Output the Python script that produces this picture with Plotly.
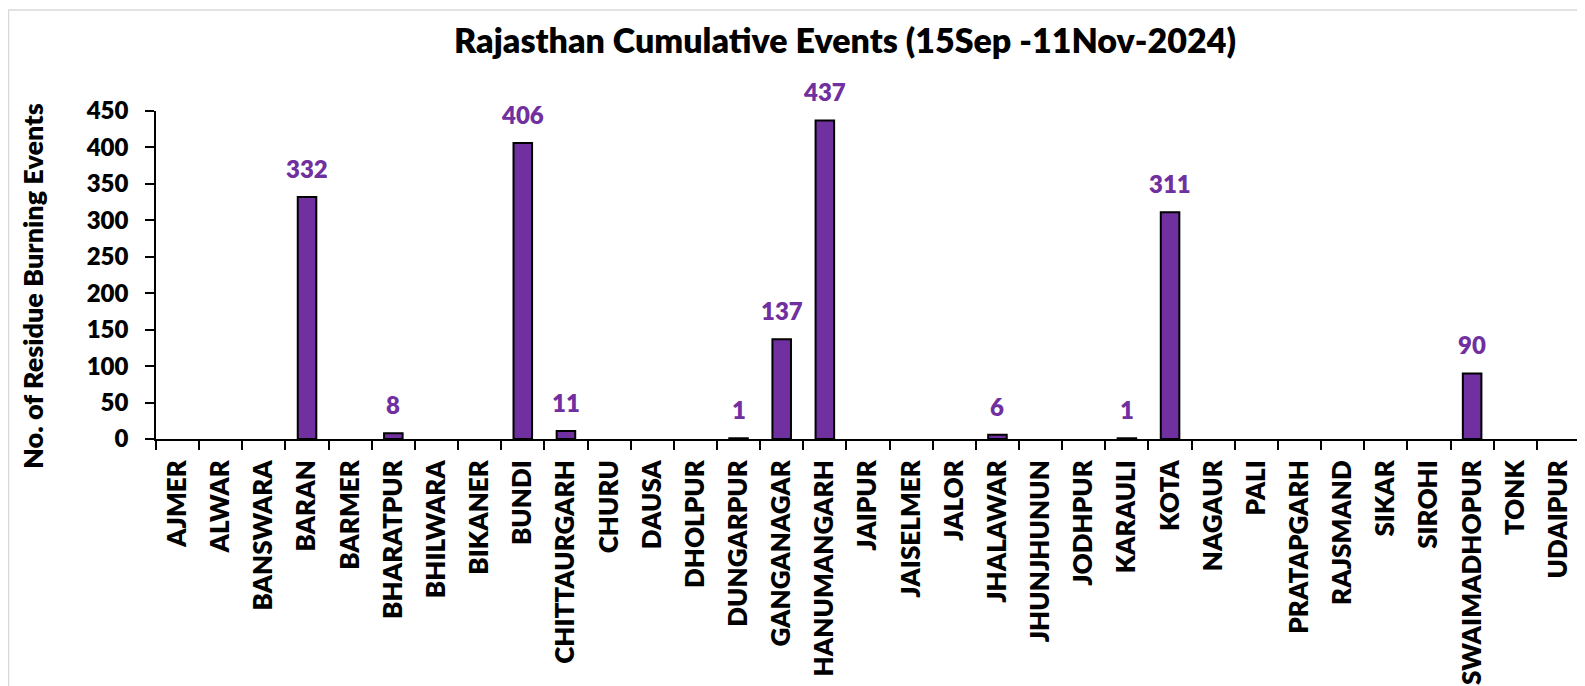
import plotly.graph_objects as go

districts = ["AJMER", "ALWAR", "BANSWARA", "BARAN", "BARMER", "BHARATPUR", "BHILWARA",
             "BIKANER", "BUNDI", "CHITTAURGARH", "CHURU", "DAUSA", "DHOLPUR", "DUNGARPUR",
             "GANGANAGAR", "HANUMANGARH", "JAIPUR", "JAISELMER", "JALOR", "JHALAWAR",
             "JHUNJHUNUN", "JODHPUR", "KARAULI", "KOTA", "NAGAUR", "PALI", "PRATAPGARH",
             "RAJSMAND", "SIKAR", "SIROHI", "SWAIMADHOPUR", "TONK", "UDAIPUR"]
events = [0, 0, 0, 332, 0, 8, 0,
          0, 406, 11, 0, 0, 0, 1,
          137, 437, 0, 0, 0, 6,
          0, 0, 1, 311, 0, 0, 0,
          0, 0, 0, 90, 0, 0]
y_ticks = [0, 50, 100, 150, 200, 250, 300, 350, 400, 450]

title_text = "Rajasthan Cumulative Events (15Sep -11Nov-2024)"
y_title = "No. of Residue Burning Events"

# page body has an 8px margin, so the figure is drawn 8px smaller and all positions shifted
OFF = 8
W, H = 1585 - OFF, 686 - OFF
L, R, T, B = 156 - OFF, 5, 111 - OFF, 247
FONT = "Lato"
WEIGHT = 800
PURPLE = "#7030A0"

fig = go.Figure()
fig.add_trace(go.Bar(
    x=districts, y=events,
    marker=dict(color=PURPLE,
                line=dict(color="black", width=[2 if v else 0 for v in events])),
    width=0.43,
    hoverinfo="x+y",
))

for d, v in zip(districts, events):
    if v:
        fig.add_annotation(x=d, y=v, text=str(v), showarrow=False,
                           yanchor="bottom", yshift=12,
                           font=dict(family=FONT, size=24, color=PURPLE, weight=WEIGHT))

pw = W - L - R
ph = H - T - B
fig.add_annotation(xref="paper", yref="paper", x=(32 - OFF - L) / pw, y=0.5 - 11 / ph,
                   text=y_title, textangle=-90, showarrow=False,
                   xanchor="center", yanchor="middle",
                   font=dict(family=FONT, size=27, color="black", weight=WEIGHT))

# chart border
fig.add_shape(type="rect", xref="paper", yref="paper",
              x0=(0.5 - L) / pw, x1=(W + 2 - L) / pw,
              y0=(H - B - 700) / ph, y1=(H - B - (10 - OFF)) / ph,
              line=dict(color="#D9D9D9", width=1.5), layer="below")

fig.update_layout(
    width=W, height=H,
    margin=dict(l=L, r=R, t=T, b=B, pad=0, autoexpand=False),
    paper_bgcolor="white", plot_bgcolor="white",
    showlegend=False,
    title=dict(text=title_text, x=(845 - OFF) / W, xanchor="center", xref="container",
               y=1 - (41 - OFF) / H, yanchor="middle", yref="container",
               font=dict(family=FONT, size=34, color="black", weight=WEIGHT)),
    font=dict(family=FONT, color="black"),
)
fig.update_xaxes(
    type="category", tickangle=-90, tickson="boundaries", automargin=False,
    ticks="outside", ticklen=9, tickwidth=1.5, tickcolor="black",
    showline=True, linecolor="black", linewidth=1.5, showgrid=False,
    tickfont=dict(family=FONT, size=26, color="black", weight=WEIGHT),
    ticklabelstandoff=9,
)
fig.update_yaxes(
    range=[0, 450], tickvals=y_ticks, automargin=False,
    ticks="outside", ticklen=9, tickwidth=1.5, tickcolor="black",
    showline=True, linecolor="black", linewidth=1.5, showgrid=False, zeroline=False,
    tickfont=dict(family=FONT, size=24, color="black", weight=WEIGHT),
    ticklabelstandoff=12,
)

fig.write_html("out.html")
